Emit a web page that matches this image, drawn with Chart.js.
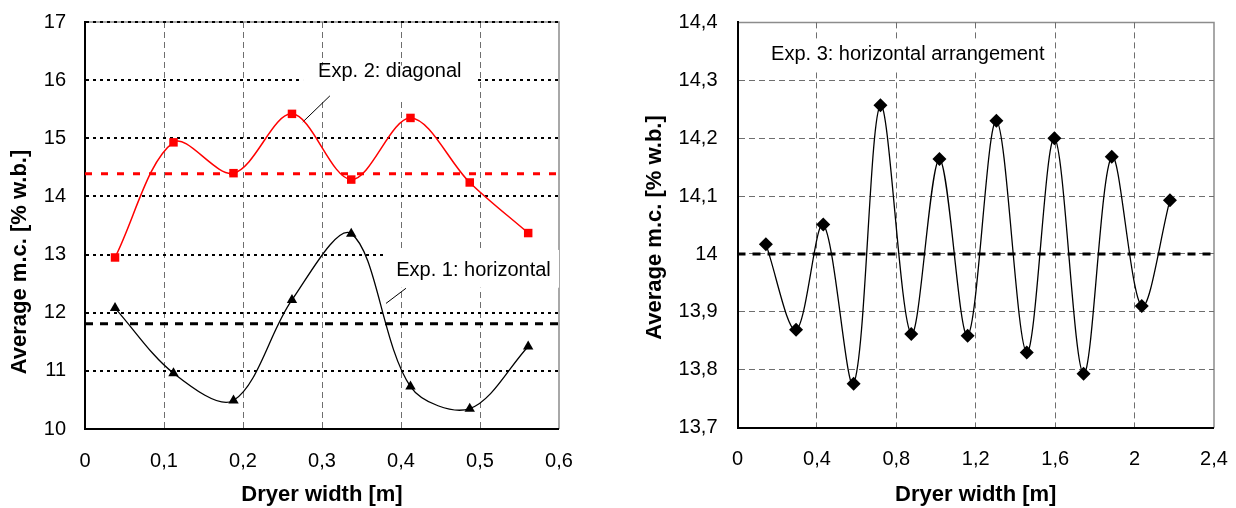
<!DOCTYPE html>
<html><head><meta charset="utf-8">
<script src="https://cdn.jsdelivr.net/npm/chart.js@4/dist/chart.umd.min.js"></script>
<style>
html,body{margin:0;padding:0;background:#fff;width:1236px;height:508px;overflow:hidden}
#w1{position:absolute;left:0;top:0;width:618px;height:508px}
#w2{position:absolute;left:618px;top:0;width:618px;height:508px}
</style></head><body>
<div id="w1"><canvas id="c1" width="618" height="508"></canvas></div>
<div id="w2"><canvas id="c2" width="618" height="508"></canvas></div>
<script>
// ---------- Left chart data ----------
const widthExp12 = [0.038, 0.112, 0.188, 0.262, 0.337, 0.412, 0.487, 0.561];
const mcExp2Diagonal = [12.95, 14.93, 14.40, 15.42, 14.29, 15.35, 14.24, 13.37];
const mcExp1Horizontal = [12.08, 10.96, 10.49, 12.22, 13.36, 10.73, 10.35, 11.42];
const meanExp2 = 14.39;
const meanExp1 = 11.81;
const xTicksLeft = [0, 0.1, 0.2, 0.3, 0.4, 0.5, 0.6];
const xTickLabelsLeft = ['0', '0,1', '0,2', '0,3', '0,4', '0,5', '0,6'];
const yTicksLeft = [10, 11, 12, 13, 14, 15, 16, 17];
const yTickLabelsLeft = ['10', '11', '12', '13', '14', '15', '16', '17'];

// ---------- Right chart data ----------
const widthExp3 = [0.143, 0.295, 0.432, 0.585, 0.720, 0.875, 1.017, 1.159, 1.304, 1.457, 1.596, 1.743, 1.885, 2.036, 2.178];
const mcExp3 = [14.017, 13.869, 14.051, 13.776, 14.257, 13.862, 14.164, 13.859, 14.230, 13.830, 14.200, 13.793, 14.168, 13.910, 14.093];
const meanExp3 = 14.0;
const xTicksRight = [0, 0.4, 0.8, 1.2, 1.6, 2.0, 2.4];
const xTickLabelsRight = ['0', '0,4', '0,8', '1,2', '1,6', '2', '2,4'];
const yTicksRight = [13.7, 13.8, 13.9, 14.0, 14.1, 14.2, 14.3, 14.4];
const yTickLabelsRight = ['13,7', '13,8', '13,9', '14', '14,1', '14,2', '14,3', '14,4'];

const xTitle = 'Dryer width [m]';
const yTitle = 'Average m.c. [% w.b.]';

const FONT = "'Liberation Sans', Arial, sans-serif";

function pts(xs, ys) { return xs.map((x, i) => ({x: x, y: ys[i]})); }

const framePlugin = {
  id: 'frame',
  beforeDraw(chart) {
    const {ctx, chartArea: a} = chart;
    ctx.save();
    ctx.strokeStyle = '#8c8c8c';
    ctx.lineWidth = 1.5;
    ctx.beginPath();
    ctx.moveTo(a.left, a.top);
    ctx.lineTo(a.right, a.top);
    ctx.lineTo(a.right, a.bottom);
    ctx.stroke();
    ctx.restore();
  }
};

const notesPlugin = {
  id: 'notes',
  beforeDatasetsDraw(chart, args, opts) {
    const {ctx} = chart;
    const xs = chart.scales.x, ys = chart.scales.y;
    ctx.save();
    ctx.fillStyle = '#fff';
    (opts.boxes || []).forEach(b => {
      const x1 = xs.getPixelForValue(b.x1), x2 = xs.getPixelForValue(b.x2);
      const y1 = ys.getPixelForValue(b.y1), y2 = ys.getPixelForValue(b.y2);
      ctx.fillRect(Math.min(x1, x2), Math.min(y1, y2), Math.abs(x2 - x1), Math.abs(y2 - y1));
    });
    ctx.fillStyle = '#000';
    ctx.font = '20px ' + FONT;
    ctx.textAlign = 'left';
    ctx.textBaseline = 'middle';
    (opts.texts || []).forEach(t => {
      ctx.fillText(t.text, xs.getPixelForValue(t.x), ys.getPixelForValue(t.y));
    });
    ctx.strokeStyle = '#000';
    ctx.lineWidth = 1;
    (opts.leaders || []).forEach(l => {
      ctx.beginPath();
      ctx.moveTo(xs.getPixelForValue(l.x1), ys.getPixelForValue(l.y1));
      ctx.lineTo(xs.getPixelForValue(l.x2), ys.getPixelForValue(l.y2));
      ctx.stroke();
    });
    ctx.restore();
  },
  afterDraw(chart, args, opts) {
    if (!opts.yTitle) return;
    const {ctx} = chart;
    ctx.save();
    ctx.translate(opts.yTitle.x, opts.yTitle.y);
    ctx.rotate(-Math.PI / 2);
    ctx.font = 'bold 22px ' + FONT;
    ctx.fillStyle = '#000';
    ctx.textAlign = 'center';
    ctx.textBaseline = 'middle';
    ctx.fillText(yTitle, 0, 0);
    ctx.restore();
  }
};

function makeChart(canvasId, cfg) {
  return new Chart(document.getElementById(canvasId), {
    type: 'line',
    data: {datasets: cfg.datasets},
    plugins: [framePlugin, notesPlugin],
    options: {
      responsive: false,
      animation: false,
      devicePixelRatio: 1,
      layout: {padding: cfg.padding},
      plugins: {
        legend: {display: false},
        tooltip: {enabled: false},
        notes: cfg.notes
      },
      scales: {
        x: {
          type: 'linear',
          min: cfg.xTicks[0],
          max: cfg.xTicks[cfg.xTicks.length - 1],
          afterBuildTicks: s => { s.ticks = cfg.xTicks.map(v => ({value: v})); },
          afterFit: s => { s.height = cfg.xHeight; s.paddingLeft = 0; s.paddingRight = 0; },
          ticks: {
            autoSkip: false, maxRotation: 0, padding: cfg.xTickPad,
            color: '#000', font: {family: FONT, size: 20},
            callback: (v, i) => cfg.xLabels[i]
          },
          grid: {
            drawTicks: false,
            color: cfg.xGridColor,
            lineWidth: c => {
              const v = c.tick ? c.tick.value : null;
              return (v !== null && v > cfg.xTicks[0] && v < cfg.xTicks[cfg.xTicks.length - 1]) ? 1 : 0;
            }
          },
          border: {display: true, color: '#000', width: 2, dash: cfg.xGridDash},
          title: {
            display: true, text: xTitle, color: '#000',
            font: {family: FONT, size: 22, weight: 'bold'},
            padding: {top: 0, bottom: 0}
          }
        },
        y: {
          type: 'linear',
          min: cfg.yTicks[0],
          max: cfg.yTicks[cfg.yTicks.length - 1],
          afterBuildTicks: s => { s.ticks = cfg.yTicks.map(v => ({value: v})); },
          afterFit: s => { s.width = cfg.yWidth; s.paddingTop = 0; s.paddingBottom = 0; },
          ticks: {
            autoSkip: false, padding: cfg.yTickPad,
            color: '#000', font: {family: FONT, size: 20},
            callback: (v, i) => cfg.yLabels[i]
          },
          grid: {
            drawTicks: false,
            color: cfg.yGridColor,
            lineWidth: c => {
              const v = c.tick ? c.tick.value : null;
              const top = cfg.yTicks[cfg.yTicks.length - 1];
              return (v !== null && v > cfg.yTicks[0] && (cfg.yTopGrid ? v <= top : v < top - 1e-9)) ? cfg.yGridWidth : 0;
            }
          },
          border: {display: true, color: '#000', width: 2, dash: cfg.yGridDash}
        }
      }
    }
  });
}

// ---------- Left chart ----------
makeChart('c1', {
  padding: {top: 22, right: 59, left: 0, bottom: 0},
  xHeight: 79, yWidth: 85, xTickPad: 20, yTickPad: 19,
  xTicks: xTicksLeft, xLabels: xTickLabelsLeft,
  yTicks: yTicksLeft, yLabels: yTickLabelsLeft,
  xGridColor: '#6e6e6e', xGridDash: [6, 4],
  yGridColor: '#000', yGridDash: [3, 4], yGridWidth: 2, yTopGrid: true,
  datasets: [
    {label: 'Exp. 2 mean', data: [{x: 0, y: meanExp2}, {x: 0.6, y: meanExp2}],
     borderColor: '#ff0000', borderWidth: 3, borderDash: [7, 9], pointRadius: 0, order: 3},
    {label: 'Exp. 1 mean', data: [{x: 0, y: meanExp1}, {x: 0.6, y: meanExp1}],
     borderColor: '#000', borderWidth: 3, borderDash: [8, 7], pointRadius: 0, order: 3},
    {label: 'Exp. 2: diagonal', data: pts(widthExp12, mcExp2Diagonal),
     borderColor: '#ff0000', borderWidth: 1.5, tension: 0.33,
     pointStyle: 'rect', pointRadius: 6, pointBackgroundColor: '#ff0000', pointBorderColor: '#ff0000', pointBorderWidth: 0, order: 1},
    {label: 'Exp. 1: horizontal', data: pts(widthExp12, mcExp1Horizontal),
     borderColor: '#000', borderWidth: 1.3, tension: 0.33,
     pointStyle: 'triangle', pointRadius: 6, pointBackgroundColor: '#000', pointBorderColor: '#000', pointBorderWidth: 0, order: 1}
  ],
  notes: {
    boxes: [
      {x1: 0.276, x2: 0.495, y1: 16.25, y2: 15.68},
      {x1: 0.381, x2: 0.6, y1: 13.08, y2: 12.43}
    ],
    texts: [
      {text: 'Exp. 2: diagonal', x: 0.295, y: 16.15},
      {text: 'Exp. 1: horizontal', x: 0.394, y: 12.72}
    ],
    leaders: [
      {x1: 0.310, y1: 15.73, x2: 0.2757, y2: 15.28},
      {x1: 0.4063, y1: 12.42, x2: 0.381, y2: 12.16}
    ],
    yTitle: {x: 20, y: 262}
  }
});

// ---------- Right chart ----------
makeChart('c2', {
  padding: {top: 22.4, right: 22, left: 0, bottom: 0},
  xHeight: 80.3, yWidth: 119.5, xTickPad: 20, yTickPad: 20,
  xTicks: xTicksRight, xLabels: xTickLabelsRight,
  yTicks: yTicksRight, yLabels: yTickLabelsRight,
  xGridColor: '#6e6e6e', xGridDash: [6, 4],
  yGridColor: '#6e6e6e', yGridDash: [6, 4], yGridWidth: 1, yTopGrid: false,
  datasets: [
    {label: 'Exp. 3 mean', data: [{x: 0, y: meanExp3}, {x: 2.4, y: meanExp3}],
     borderColor: '#000', borderWidth: 3, borderDash: [8, 7], pointRadius: 0, order: 3},
    {label: 'Exp. 3: horizontal arrangement', data: pts(widthExp3, mcExp3),
     borderColor: '#000', borderWidth: 1.3, tension: 0.33,
     pointStyle: 'rectRot', pointRadius: 7, pointBackgroundColor: '#000', pointBorderColor: '#000', pointBorderWidth: 0, order: 1}
  ],
  notes: {
    boxes: [
      {x1: 0.137, x2: 1.585, y1: 14.37, y2: 14.314}
    ],
    texts: [
      {text: 'Exp. 3: horizontal arrangement', x: 0.169, y: 14.344}
    ],
    leaders: [],
    yTitle: {x: 36.7, y: 227.5}
  }
});
</script>
</body></html>
